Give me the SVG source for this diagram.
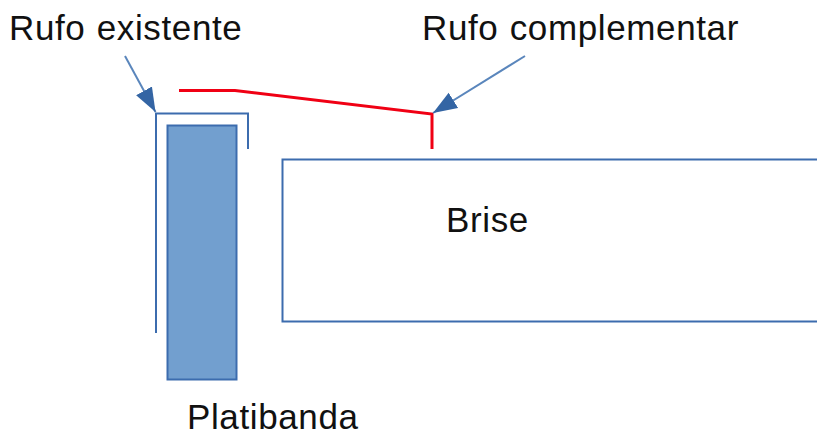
<svg xmlns="http://www.w3.org/2000/svg" width="817" height="432" viewBox="0 0 817 432">
<style>
text{font-family:"Liberation Sans",Arial,sans-serif;font-size:35px;letter-spacing:.62px;word-spacing:1px;fill:#111}
.b{fill:none;stroke:#3c6cae;stroke-width:2}
.r{fill:none;stroke:#f00014;stroke-width:3}
.a{fill:none;stroke:#5a86bc;stroke-width:2}
</style>
<defs><marker id="ah" markerUnits="userSpaceOnUse" markerWidth="26" markerHeight="20" refX="24" refY="10" orient="auto"><path d="M0 1L24 10L0 19Z" fill="#3465a4"/></marker></defs>
<rect width="817" height="432" fill="#fff"/>
<g id="platibanda"><rect x="167.500" y="125.500" width="69" height="254" fill="#729fcf" stroke="#3c6cae" stroke-width="2"/><text x="187" y="429">Platibanda</text></g>
<g id="rufo-existente"><path class="b" d="M156 333V113.500H248V149"/><text x="9" y="40">Rufo existente</text></g>
<g id="rufo-complementar"><path class="r" d="M179 90.500H235L432 114V149"/><text x="422" y="40">Rufo complementar</text></g>
<g id="brise"><path class="b" d="M817 159.500H282.500V321.500H817"/><text x="446" y="232">Brise</text></g>
<g id="connectors"><path class="a" d="M125 56L155.500 112" marker-end="url(#ah)"/><path class="a" d="M525 56L433 113" marker-end="url(#ah)"/></g>
</svg>
